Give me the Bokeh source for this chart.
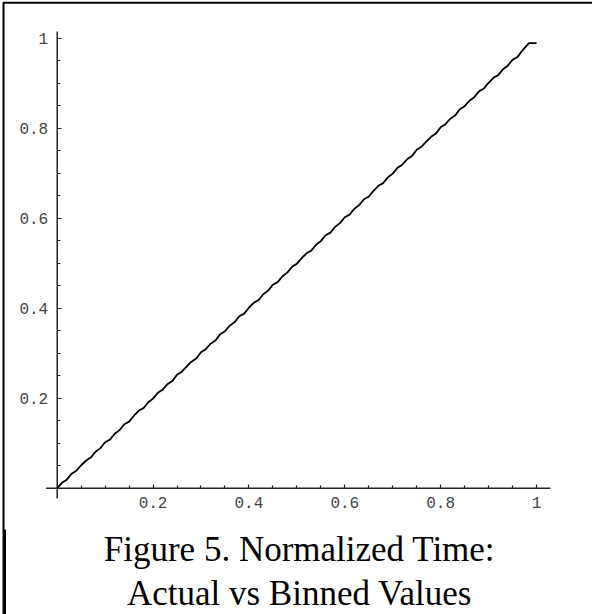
from bokeh.plotting import figure
from bokeh.models import FixedTicker, BoxAnnotation, Range1d, ColumnDataSource, Label
from bokeh.embed import file_html
from bokeh.resources import INLINE

# Data (actual normalized time vs binned value)
actual_time = [
    0.00, 0.01, 0.02, 0.03, 0.04, 0.05, 0.06, 0.07, 0.08, 0.09,
    0.10, 0.11, 0.12, 0.13, 0.14, 0.15, 0.16, 0.17, 0.18, 0.19,
    0.20, 0.21, 0.22, 0.23, 0.24, 0.25, 0.26, 0.27, 0.28, 0.29,
    0.30, 0.31, 0.32, 0.33, 0.34, 0.35, 0.36, 0.37, 0.38, 0.39,
    0.40, 0.41, 0.42, 0.43, 0.44, 0.45, 0.46, 0.47, 0.48, 0.49,
    0.50, 0.51, 0.52, 0.53, 0.54, 0.55, 0.56, 0.57, 0.58, 0.59,
    0.60, 0.61, 0.62, 0.63, 0.64, 0.65, 0.66, 0.67, 0.68, 0.69,
    0.70, 0.71, 0.72, 0.73, 0.74, 0.75, 0.76, 0.77, 0.78, 0.79,
    0.80, 0.81, 0.82, 0.83, 0.84, 0.85, 0.86, 0.87, 0.88, 0.89,
    0.90, 0.91, 0.92, 0.93, 0.94, 0.95, 0.96, 0.97, 0.984, 1.00,
]
binned_value = [
    0.000, 0.012, 0.019, 0.032, 0.039, 0.051, 0.061, 0.068, 0.081, 0.089,
    0.102, 0.108, 0.121, 0.129, 0.142, 0.148, 0.161, 0.172, 0.178, 0.191,
    0.199, 0.212, 0.219, 0.231, 0.238, 0.252, 0.259, 0.270, 0.281, 0.288,
    0.302, 0.309, 0.321, 0.328, 0.342, 0.349, 0.361, 0.369, 0.382, 0.388,
    0.401, 0.412, 0.418, 0.431, 0.439, 0.452, 0.458, 0.471, 0.479, 0.492,
    0.499, 0.511, 0.522, 0.528, 0.541, 0.549, 0.562, 0.568, 0.581, 0.589,
    0.602, 0.608, 0.621, 0.629, 0.642, 0.648, 0.661, 0.672, 0.678, 0.691,
    0.699, 0.712, 0.719, 0.731, 0.738, 0.752, 0.759, 0.770, 0.781, 0.788,
    0.802, 0.809, 0.821, 0.828, 0.842, 0.849, 0.861, 0.869, 0.882, 0.888,
    0.901, 0.912, 0.918, 0.931, 0.939, 0.952, 0.958, 0.972, 0.989, 0.989,
]
major_ticks = [0.2, 0.4, 0.6, 0.8, 1.0]
minor_ticks = [0.05, 0.1, 0.15, 0.25, 0.3, 0.35, 0.45, 0.5, 0.55, 0.65,
               0.7, 0.75, 0.85, 0.9, 0.95]
tick_labels = {0.2: "0.2", 0.4: "0.4", 0.6: "0.6", 0.8: "0.8", 1.0: "1"}
caption_lines = ["Figure 5. Normalized Time:", "Actual vs Binned Values"]

# Mathematica-style plot range (axes are drawn across it)
x_axis_extent = [-0.023, 1.029]
y_axis_extent = [-0.023, 1.015]

# The frame covers the whole page; ranges map page pixels to data
p = figure(width=592, height=614, output_backend="svg", toolbar_location=None,
           x_range=Range1d(-0.1183, 1.1168), y_range=Range1d(-0.2807, 1.0838),
           min_border_left=0, min_border_right=0, min_border_top=0,
           min_border_bottom=0)
p.outline_line_color = None
p.grid.visible = False
p.background_fill_color = "white"
p.border_fill_color = "white"

# axis lines across the plot range
p.line(x_axis_extent, [0, 0], line_color="#222222", line_width=1.5)
p.line([0, 0], y_axis_extent, line_color="#222222", line_width=1.5)

src = ColumnDataSource(dict(x=actual_time, y=binned_value))
p.line("x", "y", source=src, line_color="black", line_width=1.8)

for ax in (p.xaxis[0], p.yaxis[0]):
    ax.fixed_location = 0
    ax.ticker = FixedTicker(ticks=major_ticks, minor_ticks=minor_ticks)
    ax.major_label_overrides = tick_labels
    ax.axis_line_color = None
    ax.major_tick_line_color = "#222222"
    ax.minor_tick_line_color = "#222222"
    ax.major_tick_line_width = 1.2
    ax.minor_tick_line_width = 1.2
    ax.major_tick_in = 4
    ax.major_tick_out = 0
    ax.minor_tick_in = 3
    ax.minor_tick_out = 0
    ax.major_label_text_font = "Liberation Mono"
    ax.major_label_text_font_size = "16px"
    ax.major_label_text_color = "#444444"
p.xaxis[0].major_label_standoff = 9
p.yaxis[0].major_label_standoff = 9
p.yaxis[0].major_label_orientation = "horizontal"

caption_y = [-0.1362, -0.2340]
for line, cy in zip(caption_lines, caption_y):
    p.add_layout(Label(x=0.5055, y=cy, text=line, text_align="center",
                       text_baseline="alphabetic", text_font="Liberation Serif",
                       text_font_size="35px", text_color="black"))

border = BoxAnnotation(left=-0.112, right=1.2, top=1.079, bottom=-0.4,
                       fill_alpha=0, line_color="black", line_alpha=1.0,
                       line_width=2)
p.add_layout(border)
lower_edge = BoxAnnotation(left=-0.1125, right=-0.1068, top=-0.0918, bottom=-0.4,
                           fill_color="black", fill_alpha=1.0, line_alpha=0)
p.add_layout(lower_edge)

open("out.html", "w").write(file_html(p, INLINE))
